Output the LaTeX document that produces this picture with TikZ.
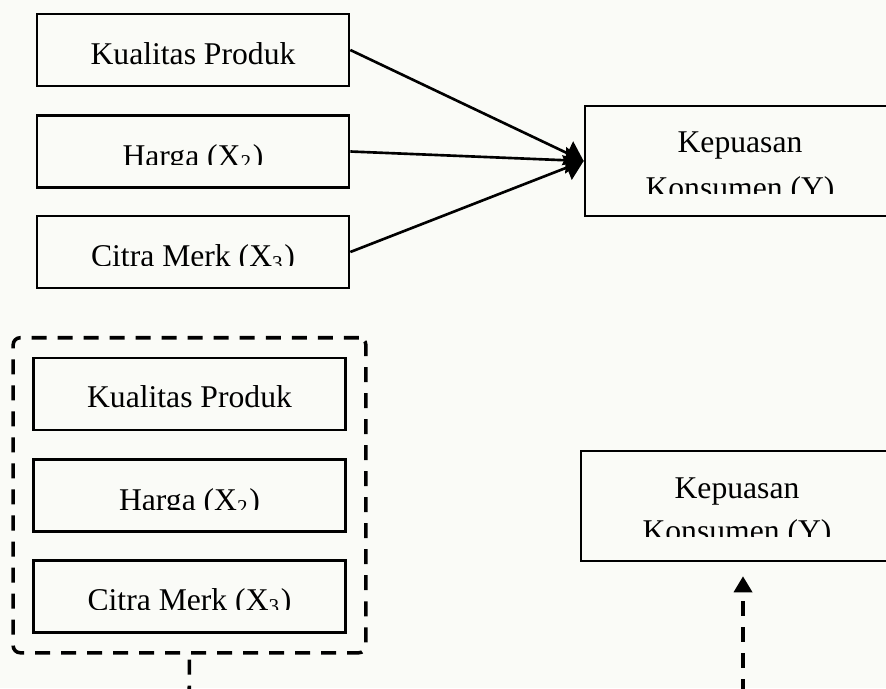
\documentclass[tikz,border=0pt]{standalone}
\usepackage{fontspec}
\setmainfont{Liberation Serif}
\usetikzlibrary{arrows.meta,fit}

\definecolor{latar}{RGB}{250,251,247}

\tikzset{
  kotak/.style={draw, line width=0.7pt, inner sep=0pt, minimum width=3.12cm, minimum height=0.72cm},
  kotakY/.style={kotak, minimum width=3.4cm, minimum height=1.1cm},
  tulisan/.style={anchor=base, inner sep=0pt, font=\fontsize{9}{11}\selectfont},
  panah/.style={line width=0.75pt, -{Triangle[length=0.18cm, width=0.26cm]}},
  putus/.style={line width=1pt, dash pattern=on 0.15cm off 0.11cm},
}

\begin{document}
\begin{tikzpicture}[x=0.01cm, y=-0.01cm]

%Rahmen
\fill[latar] (0,0) rectangle (886,688);
\clip (0,0) rectangle (886,688);

%Kotak atas
\node[kotak] (kp1) at (193,50) {};
\node[kotak] (hr1) at (193,151.5) {};
\node[kotak] (cm1) at (193,252) {};
\node[kotakY] (ky1) at (755,161) {};

\node[tulisan] (t-kp1) at ([yshift=-0.52cm]kp1.north) {Kualitas Produk};
\begin{scope}
\clip (hr1.north west) rectangle ([yshift=-0.50cm]hr1.north east);
\node[tulisan] (t-hr1) at ([yshift=-0.52cm]hr1.north) {Harga (X\textsubscript{2})};
\end{scope}
\begin{scope}
\clip (cm1.north west) rectangle ([yshift=-0.51cm]cm1.north east);
\node[tulisan] (t-cm1) at ([yshift=-0.52cm]cm1.north) {Citra Merk (X\textsubscript{3})};
\end{scope}
\node[tulisan] (t-ky1a) at ([xshift=-0.15cm, yshift=-0.48cm]ky1.north) {Kepuasan};
\begin{scope}
\clip (ky1.north west) rectangle ([yshift=-0.89cm]ky1.north east);
\node[tulisan] (t-ky1b) at ([xshift=-0.15cm, yshift=-0.94cm]ky1.north) {Konsumen (Y)};
\end{scope}

%Panah
\draw[panah] (kp1.east) -- (ky1.west);
\draw[panah] (hr1.east) -- (ky1.west);
\draw[panah] (cm1.east) -- (ky1.west);

%Kotak bawah
\node[kotak] (kp2) at (189.5,394) {};
\node[kotak] (hr2) at (189.5,495.5) {};
\node[kotak] (cm2) at (189.5,596.5) {};
\node[kotakY] (ky2) at (751,506) {};

\node[tulisan] (t-kp2) at ([yshift=-0.51cm]kp2.north) {Kualitas Produk};
\begin{scope}
\clip (hr2.north west) rectangle ([yshift=-0.51cm]hr2.north east);
\node[tulisan] (t-hr2) at ([yshift=-0.525cm]hr2.north) {Harga (X\textsubscript{2})};
\end{scope}
\begin{scope}
\clip (cm2.north west) rectangle ([yshift=-0.50cm]cm2.north east);
\node[tulisan] (t-cm2) at ([yshift=-0.51cm]cm2.north) {Citra Merk (X\textsubscript{3})};
\end{scope}
\node[tulisan] (t-ky2a) at ([xshift=-0.14cm, yshift=-0.49cm]ky2.north) {Kepuasan};
\begin{scope}
\clip (ky2.north west) rectangle ([yshift=-0.87cm]ky2.north east);
\node[tulisan] (t-ky2b) at ([xshift=-0.14cm, yshift=-0.92cm]ky2.north) {Konsumen (Y)};
\end{scope}

%Kotak putus-putus
\node[putus, draw, rounded corners=2pt, inner sep=0.19cm, fit=(kp2)(cm2)] (grup) {};

\coordinate (bawah1) at (189,720);
\coordinate (bawah2) at (743,720);
\draw[putus, shorten <=0.05cm] (grup.south) -- (bawah1);
\draw[putus, -{Triangle[length=0.16cm, width=0.18cm]}, shorten >=0.14cm] (bawah2) -- (bawah2 |- ky2.south);

\end{tikzpicture}
\end{document}
